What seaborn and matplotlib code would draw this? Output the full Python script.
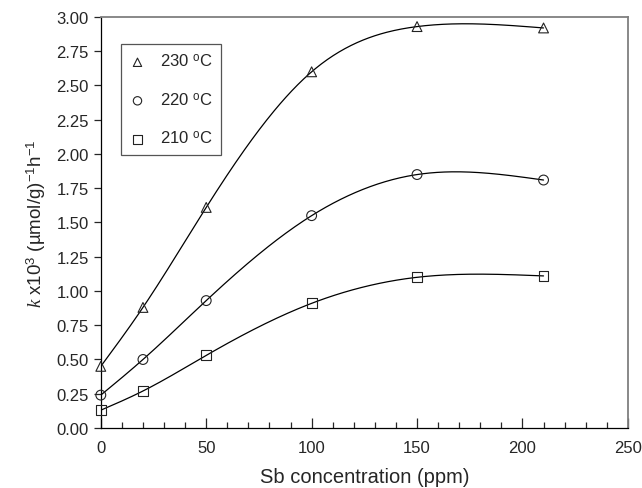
import numpy as np
import pandas as pd
import matplotlib
matplotlib.use("Agg")
import matplotlib.pyplot as plt
from matplotlib.ticker import MultipleLocator, FormatStrFormatter
import seaborn as sns

# data
sb_ppm = [0, 20, 50, 100, 150, 210]
k_230 = [0.45, 0.88, 1.61, 2.60, 2.93, 2.92]
k_220 = [0.24, 0.50, 0.93, 1.55, 1.85, 1.81]
k_210 = [0.13, 0.27, 0.53, 0.91, 1.10, 1.11]
series_labels = ["230 $^{\\mathrm{o}}$C", "220 $^{\\mathrm{o}}$C", "210 $^{\\mathrm{o}}$C"]
series_markers = ["^", "o", "s"]


def smooth_curve(x, y, n=300):
    # natural cubic spline through the measured points (smoothed line style)
    x = np.asarray(x, float)
    y = np.asarray(y, float)
    h = np.diff(x)
    m = len(x)
    A = np.zeros((m, m))
    b = np.zeros(m)
    A[0, 0] = A[-1, -1] = 1
    for i in range(1, m - 1):
        A[i, i - 1] = h[i - 1]
        A[i, i] = 2 * (h[i - 1] + h[i])
        A[i, i + 1] = h[i]
        b[i] = 6 * ((y[i + 1] - y[i]) / h[i] - (y[i] - y[i - 1]) / h[i - 1])
    M = np.linalg.solve(A, b)
    xs = np.linspace(x[0], x[-1], n)
    idx = np.clip(np.searchsorted(x, xs) - 1, 0, m - 2)
    x0, x1 = x[idx], x[idx + 1]
    hh = x1 - x0
    t0, t1 = x1 - xs, xs - x0
    ys = (M[idx] * t0**3 + M[idx + 1] * t1**3) / (6 * hh) \
        + (y[idx] / hh - M[idx] * hh / 6) * t0 + (y[idx + 1] / hh - M[idx + 1] * hh / 6) * t1
    return xs, ys


sns.set_style("ticks")
plt.rcParams["font.family"] = ["Liberation Sans", "DejaVu Sans"]
plt.rcParams["mathtext.fontset"] = "custom"
plt.rcParams["mathtext.rm"] = "Liberation Sans"
plt.rcParams["mathtext.it"] = "Liberation Serif:italic"

fig = plt.figure(figsize=(6.42, 4.89), dpi=100)
ax = fig.add_axes([0.157, 0.1227, 0.821, 0.8405])

for vals, lab, mk in zip([k_230, k_220, k_210], series_labels, series_markers):
    df = pd.DataFrame({"x": sb_ppm, "y": vals})
    xs, ys = smooth_curve(sb_ppm, vals)
    sns.lineplot(x=xs, y=ys, color="black", lw=0.9, ax=ax, sort=False)
    sns.scatterplot(data=df, x="x", y="y", marker=mk, s=50, facecolor="none",
                    edgecolor="#222222", linewidth=0.8, ax=ax, label=lab,
                    zorder=3, clip_on=False)

ax.set_xlim(0, 250)
ax.set_ylim(0, 3.0)
ax.xaxis.set_major_locator(MultipleLocator(50))
ax.xaxis.set_minor_locator(MultipleLocator(10))
ax.yaxis.set_major_locator(MultipleLocator(0.25))
ax.yaxis.set_major_formatter(FormatStrFormatter("%.2f"))
ax.tick_params(axis="x", which="major", direction="in", length=7, width=0.9, labelsize=12, pad=9)
ax.tick_params(axis="x", which="minor", direction="in", length=4, width=0.9)
ax.tick_params(axis="y", which="major", direction="out", length=5, width=0.9, labelsize=12)

for side in ["left", "bottom"]:
    ax.spines[side].set_color("black")
    ax.spines[side].set_linewidth(0.9)
for side in ["top", "right"]:
    ax.spines[side].set_visible(True)
    ax.spines[side].set_color("#7f7f7f")
    ax.spines[side].set_linewidth(1.3)

ax.set_xlabel("Sb concentration (ppm)", fontsize=14.5, labelpad=8)
ax.set_ylabel("$\\mathit{k}$ x10$^{3}$ (\u00b5mol/g)$^{-1}$h$^{-1}$", fontsize=13.5, labelpad=6)

leg = ax.legend(loc="upper left", bbox_to_anchor=(0.038, 0.934), borderaxespad=0,
                fontsize=12, labelspacing=1.28, handlelength=1.0, handletextpad=0.85,
                borderpad=0.5, fancybox=False, framealpha=1, edgecolor="#555555",
                markerscale=0.85)
leg.get_frame().set_linewidth(0.9)

fig.savefig("out.png", dpi=100)
